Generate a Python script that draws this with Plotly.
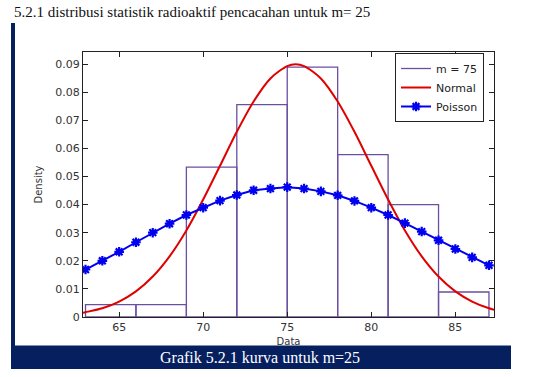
import plotly.graph_objects as go

# ---- data ----
bin_edges_left = [63, 66, 69, 72, 75, 78, 81, 84]
bin_width = 3
hist_density = [0.0044, 0.0044, 0.0533, 0.0756, 0.0889, 0.0578, 0.0400, 0.0089]

normal_x = [62.85, 63, 64, 65, 66, 67, 68, 69, 70, 71, 72, 73, 74, 75, 75.5,
            76, 77, 78, 79, 80, 81, 82, 83, 84, 85, 86, 87, 87.3]
normal_y = [0.0015, 0.0017, 0.0031, 0.0055, 0.0091, 0.0144, 0.0216, 0.0308,
            0.0418, 0.0538, 0.0659, 0.0767, 0.0849, 0.0893, 0.0899,
            0.0893, 0.0849, 0.0767, 0.0659, 0.0538, 0.0418, 0.0308, 0.0216,
            0.0144, 0.0091, 0.0055, 0.0031, 0.0026]

poisson_x = list(range(63, 88))
poisson_y = [0.0169, 0.0200, 0.0232, 0.0266, 0.0300, 0.0332, 0.0363, 0.0389,
             0.0414, 0.0434, 0.0451, 0.0457, 0.0462, 0.0457, 0.0447, 0.0433,
             0.0413, 0.0389, 0.0363, 0.0334, 0.0304, 0.0273, 0.0242, 0.0212,
             0.0184]

x_ticks = [65, 70, 75, 80, 85]
y_ticks = [0, 0.01, 0.02, 0.03, 0.04, 0.05, 0.06, 0.07, 0.08, 0.09]
y_tick_text = ["0", "0.01", "0.02", "0.03", "0.04", "0.05", "0.06", "0.07", "0.08", "0.09"]

page_title = "5.2.1 distribusi statistik radioaktif pencacahan untuk m= 25"
caption = "Grafik 5.2.1 kurva untuk m=25"

PURPLE = "#6b4fa0"
RED = "#e00000"
BLUE = "#0000f0"
NAVY = "#06205f"

centers = [e + bin_width / 2 for e in bin_edges_left]

fig = go.Figure()
fig.add_trace(go.Bar(
    x=centers, y=hist_density, width=bin_width,
    marker=dict(color="rgba(255,255,255,0)", line=dict(color=PURPLE, width=1.3)),
    showlegend=False, hoverinfo="skip",
))
# legend entry for histogram (drawn as line like the original)
fig.add_trace(go.Scatter(x=[None], y=[None], mode="lines", name="m = 75",
                         line=dict(color=PURPLE, width=1.3)))
fig.add_trace(go.Scatter(x=normal_x, y=normal_y, mode="lines", name="Normal",
                         line=dict(color=RED, width=2, shape="spline", smoothing=0.8)))
fig.add_trace(go.Scatter(x=poisson_x, y=poisson_y, mode="lines+markers", name="Poisson",
                         line=dict(color=BLUE, width=2),
                         marker=dict(symbol="asterisk-open", size=8,
                                     line=dict(color=BLUE, width=2.2), color=BLUE)))

axis_font = dict(family="DejaVu Sans", size=11, color="#333333")

fig.update_layout(
    width=533, height=377,
    margin=dict(l=83, r=39, t=52, b=60),
    paper_bgcolor="white", plot_bgcolor="white",
    showlegend=True,
    legend=dict(x=(484 - 83) / 411, y=(317 - 53) / 265, xanchor="right", yanchor="top",
                bgcolor="white", bordercolor="#222222", borderwidth=1,
                font=dict(family="DejaVu Sans", size=11, color="#222222"),
                tracegroupgap=0, itemwidth=30),
    font=axis_font,
)
fig.update_xaxes(
    range=[62.85, 87.3], tickvals=x_ticks, ticks="inside", ticklen=5,
    showline=True, linecolor="#222222", linewidth=1, mirror="ticks",
    tickcolor="#222222", showgrid=False, zeroline=False,
    title=dict(text="Data", font=dict(family="DejaVu Sans", size=10, color="#333333"), standoff=4),
    tickfont=axis_font,
)
fig.update_yaxes(
    range=[0, 0.0943], tickvals=y_ticks, ticktext=y_tick_text, ticks="inside", ticklen=5,
    showline=True, linecolor="#222222", linewidth=1, mirror="ticks",
    tickcolor="#222222", showgrid=False, zeroline=False,
    title=dict(text="Density", font=dict(family="DejaVu Sans", size=10, color="#333333"), standoff=10),
    tickfont=axis_font,
)

# page decorations: title text, left bar, caption band
fig.add_annotation(text=page_title, xref="paper", yref="paper",
                   x=(12 - 83) / 411, y=(317 - 12) / 265, xanchor="left", yanchor="middle",
                   showarrow=False, font=dict(family="Liberation Serif", size=15, color="#111111"))
fig.add_shape(type="rect", xref="paper", yref="paper",
              x0=(11 - 83) / 411, x1=(15 - 83) / 411,
              y0=(317 - 346) / 265, y1=(317 - 23) / 265,
              fillcolor=NAVY, line=dict(width=0), layer="below")
fig.add_shape(type="rect", xref="paper", yref="paper",
              x0=(11 - 83) / 411, x1=(511 - 83) / 411,
              y0=(317 - 369) / 265, y1=(317 - 345.5) / 265,
              fillcolor=NAVY, line=dict(width=0), layer="below")
fig.add_annotation(text=caption, xref="paper", yref="paper",
                   x=(260 - 83) / 411, y=(317 - 357) / 265, xanchor="center", yanchor="middle",
                   showarrow=False, font=dict(family="Liberation Serif", size=16, color="white"))

fig.write_html("out.html", config={"displayModeBar": False},
               post_script="document.body.style.margin='0';")
